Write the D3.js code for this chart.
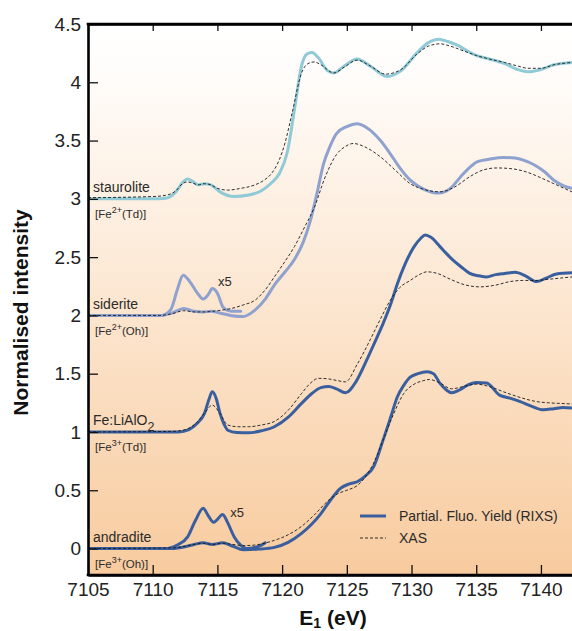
<!DOCTYPE html>
<html>
<head>
<meta charset="utf-8">
<script src="https://cdn.jsdelivr.net/npm/d3@7"></script>
<style>
  html, body { margin: 0; padding: 0; background: #fff; }
  svg { display: block; font-family: "Liberation Sans", Arial, Helvetica, sans-serif; }
</style>
</head>
<body>
<svg id="chart" width="572" height="631"></svg>
<script>
// ---- Axis ticks ----
const energyTicks = [7105, 7110, 7115, 7120, 7125, 7130, 7135, 7140];
const intensityTicks = [0, 0.5, 1, 1.5, 2, 2.5, 3, 3.5, 4, 4.5];

// ---- Samples (stacked with a vertical offset) ----
const sampleNames = ["staurolite", "siderite", "Fe:LiAlO", "andradite"];
const sampleSubscripts = ["", "", "2", ""];
const sampleSites = [["2+", "Td"], ["2+", "Oh"], ["3+", "Td"], ["3+", "Oh"]];
const sampleOffsets = [3, 2, 1, 0];
const legendLabels = ["Partial. Fluo. Yield (RIXS)", "XAS"];

// ---- Staurolite ----
const stauroliteRixsE = [7105, 7110, 7111, 7111.8, 7112.3, 7112.7, 7113.1, 7113.5, 7114.0, 7114.5,
  7115.2, 7116.3, 7117.3, 7118.4, 7119.2, 7119.8, 7120.4, 7121.0, 7121.5, 7121.9,
  7122.3, 7122.8, 7123.5, 7124.0, 7124.8, 7125.8, 7126.8, 7128.1, 7129.2, 7130.4,
  7131.3, 7132.1, 7132.8, 7133.5, 7134.3, 7135.0, 7136.0, 7137.2, 7138.2, 7139.0,
  7140.0, 7141.0, 7142.4];
const stauroliteRixs = [3.0, 3.0, 3.005, 3.06, 3.14, 3.17, 3.15, 3.12, 3.13, 3.12,
  3.06, 3.02, 3.03, 3.07, 3.14, 3.22, 3.40, 3.80, 4.14, 4.24,
  4.255, 4.21, 4.10, 4.08, 4.14, 4.20, 4.14, 4.05, 4.10, 4.25,
  4.34, 4.37, 4.35, 4.32, 4.27, 4.23, 4.20, 4.16, 4.11, 4.09,
  4.11, 4.15, 4.17];
const stauroliteXasE = [7105, 7110, 7111, 7111.8, 7112.3, 7112.7, 7113.1, 7113.5, 7114.0, 7114.5,
  7115.0, 7115.8, 7116.8, 7117.9, 7118.6, 7119.2, 7119.8, 7120.2, 7120.8, 7121.5,
  7122.0, 7122.5, 7123.0, 7124.0, 7124.8, 7125.8, 7126.8, 7128.0, 7129.2, 7130.4,
  7131.3, 7132.2, 7133.0, 7134.0, 7135.0, 7136.0, 7137.2, 7138.2, 7139.0, 7140.0,
  7141.0, 7142.4];
const stauroliteXas = [3.01, 3.02, 3.03, 3.07, 3.13, 3.145, 3.135, 3.12, 3.13, 3.12,
  3.09, 3.075, 3.09, 3.12, 3.16, 3.22, 3.34, 3.47, 3.75, 4.08,
  4.16, 4.175, 4.15, 4.08, 4.13, 4.19, 4.14, 4.07, 4.11, 4.24,
  4.31, 4.33, 4.31, 4.27, 4.23, 4.20, 4.17, 4.14, 4.12, 4.12,
  4.15, 4.17];

// ---- Siderite ----
const sideriteRixsE = [7105, 7110.5, 7111.5, 7112.4, 7113.2, 7113.9, 7114.5, 7115.2, 7116.0, 7117.0,
  7117.9, 7118.7, 7119.4, 7120.2, 7120.95, 7121.6, 7122.2, 7122.7, 7123.2, 7123.7,
  7124.2, 7125.0, 7125.8, 7126.8, 7127.6, 7128.4, 7129.2, 7129.9, 7131.0, 7132.1,
  7133.0, 7133.8, 7134.5, 7135.1, 7136.0, 7137.1, 7138.0, 7138.7, 7139.5, 7140.3,
  7141.0, 7141.8, 7142.4];
const sideriteRixs = [2.0, 2.0, 2.02, 2.06, 2.035, 2.03, 2.035, 2.02, 2.0, 1.99,
  2.045, 2.14, 2.26, 2.37, 2.48, 2.62, 2.82, 3.05, 3.30, 3.45,
  3.56, 3.62, 3.645, 3.59, 3.50, 3.38, 3.25, 3.16, 3.08, 3.05,
  3.09, 3.19, 3.27, 3.32, 3.34, 3.355, 3.35, 3.33, 3.29, 3.23,
  3.16, 3.11, 3.09];
const sideritePreEdgeE = [7110.8, 7111.4, 7111.9, 7112.35, 7112.8, 7113.4, 7113.9, 7114.3, 7114.6, 7115.0,
  7115.44, 7115.9, 7116.3, 7116.8];
const sideritePreEdgeX5 = [2.0, 2.05, 2.22, 2.345, 2.30, 2.20, 2.14, 2.18, 2.23, 2.19,
  2.07, 2.04, 2.035, 2.035];
const sideriteXasE = [7105, 7110.5, 7111.5, 7112.4, 7113.2, 7114.0, 7114.6, 7115.3, 7116.1, 7117.0,
  7117.9, 7118.7, 7119.4, 7120.2, 7120.95, 7121.7, 7122.5, 7123.3, 7124.2, 7124.9,
  7125.5, 7126.5, 7127.6, 7128.8, 7129.9, 7131.0, 7132.2, 7133.3, 7134.5, 7135.6,
  7136.6, 7137.6, 7138.6, 7139.6, 7140.4, 7141.0, 7141.8, 7142.4];
const sideriteXas = [2.0, 2.0, 2.015, 2.04, 2.03, 2.03, 2.035, 2.045, 2.06, 2.09,
  2.13, 2.22, 2.33, 2.46, 2.59, 2.75, 2.93, 3.18, 3.38, 3.45,
  3.475, 3.44, 3.36, 3.24, 3.13, 3.08, 3.06, 3.10, 3.19, 3.25,
  3.265, 3.26, 3.24, 3.20, 3.16, 3.13, 3.09, 3.06];

// ---- Fe:LiAlO2 ----
const liAlO2RixsE = [7105, 7112.0, 7112.8, 7113.4, 7114.0, 7114.35, 7114.6, 7114.9, 7115.2, 7115.5,
  7115.8, 7116.5, 7117.4, 7118.4, 7119.4, 7120.5, 7121.5, 7122.3, 7123.0, 7123.6,
  7124.2, 7124.9, 7125.7, 7126.55, 7127.2, 7127.8, 7128.4, 7128.9, 7129.5, 7130.2,
  7130.7, 7131.06, 7131.5, 7132.2, 7132.7, 7133.25, 7133.8, 7134.5, 7135.2, 7135.8,
  7136.5, 7137.2, 7138.0, 7138.8, 7139.66, 7140.4, 7141.2, 7142.4];
const liAlO2Rixs = [1.0, 1.0, 1.02, 1.07, 1.16, 1.28, 1.345, 1.29, 1.16, 1.07,
  1.015, 0.995, 0.993, 1.01, 1.045, 1.13, 1.245, 1.33, 1.38, 1.39,
  1.37, 1.336, 1.43, 1.62, 1.78, 1.93, 2.10, 2.27, 2.44, 2.59,
  2.66, 2.69, 2.67, 2.59, 2.53, 2.47, 2.42, 2.36, 2.34, 2.33,
  2.35, 2.36, 2.37, 2.34, 2.29, 2.32, 2.355, 2.365];
const liAlO2XasE = [7105, 7111.5, 7112.5, 7113.3, 7114.0, 7114.6, 7115.2, 7115.8, 7116.6, 7117.4,
  7118.4, 7119.4, 7120.5, 7121.5, 7122.2, 7122.8, 7123.6, 7124.3, 7124.9, 7125.8,
  7126.8, 7127.6, 7128.36, 7129.1, 7129.9, 7130.6, 7131.2, 7132.0, 7133.0, 7134.2,
  7135.3, 7136.5, 7137.6, 7138.6, 7139.6, 7140.6, 7141.5, 7142.4];
const liAlO2Xas = [1.0, 1.005, 1.02, 1.07, 1.16, 1.23, 1.16, 1.06, 1.045, 1.045,
  1.06, 1.09, 1.19, 1.33, 1.42, 1.46, 1.455, 1.44, 1.43, 1.58,
  1.79, 1.97, 2.13, 2.24, 2.30, 2.35, 2.374, 2.36, 2.31, 2.26,
  2.245, 2.26, 2.29, 2.30, 2.30, 2.31, 2.32, 2.33];

// ---- Andradite ----
const andraditeRixsE = [7105, 7111.5, 7112.5, 7113.2, 7113.9, 7114.6, 7115.4, 7116.2, 7117.0, 7118.2,
  7119.4, 7120.5, 7121.5, 7122.3, 7123.0, 7123.7, 7124.5, 7125.2, 7125.8, 7126.4,
  7127.06, 7127.8, 7128.4, 7128.9, 7129.4, 7129.9, 7130.5, 7131.2, 7131.7, 7132.2,
  7132.7, 7133.1, 7133.7, 7134.3, 7135.0, 7135.8, 7136.8, 7137.6, 7138.4, 7139.3,
  7140.2, 7141.0, 7141.7, 7142.4];
const andraditeRixs = [0.0, 0.0, 0.015, 0.035, 0.05, 0.035, 0.05, 0.02, -0.01, -0.005,
  0.01, 0.055, 0.13, 0.21, 0.30, 0.41, 0.516, 0.555, 0.573, 0.62,
  0.70, 0.93, 1.13, 1.30, 1.40, 1.47, 1.50, 1.516, 1.50, 1.417,
  1.36, 1.336, 1.36, 1.40, 1.425, 1.42, 1.316, 1.29, 1.26, 1.22,
  1.19, 1.20, 1.21, 1.205];
const andraditePreEdgeE = [7111.2, 7111.9, 7112.7, 7113.3, 7113.9, 7114.3, 7114.7, 7115.0, 7115.4, 7115.8,
  7116.3, 7116.8, 7117.3, 7117.9, 7118.4, 7118.7];
const andraditePreEdgeX5 = [0.0, 0.03, 0.10, 0.24, 0.345, 0.28, 0.225, 0.25, 0.293, 0.22,
  0.10, 0.03, 0.0, 0.01, 0.03, 0.05];
const andraditeXasE = [7105, 7111.5, 7112.5, 7113.2, 7113.9, 7114.6, 7115.4, 7116.2, 7117.0, 7117.9,
  7118.6, 7119.4, 7120.5, 7121.5, 7122.5, 7123.6, 7124.3, 7125.0, 7125.8, 7126.4,
  7127.06, 7127.8, 7128.6, 7129.4, 7130.2, 7130.9, 7131.4, 7132.2, 7133.1, 7134.0,
  7135.0, 7136.0, 7137.1, 7138.0, 7138.9, 7139.7, 7140.6, 7141.5, 7142.4];
const andraditeXas = [0.0, 0.005, 0.02, 0.035, 0.045, 0.035, 0.045, 0.035, 0.025, 0.03,
  0.045, 0.07, 0.12, 0.19, 0.29, 0.415, 0.47, 0.50, 0.54, 0.61,
  0.73, 0.93, 1.15, 1.33, 1.41, 1.44, 1.45, 1.42, 1.37, 1.39,
  1.41, 1.39, 1.345, 1.31, 1.28, 1.26, 1.25, 1.245, 1.24];

// "x5" magnification marks: [energy, intensity]
const magnifiedMarks = [[7115.05, 2.25], [7116.0, 0.27]];

// ---------------------------------------------------------------
const svg = d3.select("#chart");
const plot = { left: 88, top: 24, right: 572, bottom: 575 };

const x = d3.scaleLinear().domain([7105, 7142.4]).range([plot.left, plot.right]);
const y = d3.scaleLinear().domain([-0.227, 4.5]).range([plot.bottom, plot.top]);

const COLORS = {
  staurolite: "#8fcad6",
  siderite: "#8fa2cf",
  dark: "#3a5f9f",
  xas: "#1a1a1a",
  text: "#2b2b2b"
};

// Background: white at the top fading to peach at the bottom
const defs = svg.append("defs");
const grad = defs.append("linearGradient")
  .attr("id", "bg").attr("x1", 0).attr("y1", 0).attr("x2", 0).attr("y2", 1);
grad.append("stop").attr("offset", "0%").attr("stop-color", "#ffffff");
grad.append("stop").attr("offset", "8%").attr("stop-color", "#fffdfb");
grad.append("stop").attr("offset", "100%").attr("stop-color", "#f8cb9e");

defs.append("clipPath").attr("id", "clip")
  .append("rect")
  .attr("x", plot.left).attr("y", plot.top)
  .attr("width", plot.right - plot.left).attr("height", plot.bottom - plot.top);

svg.append("rect")
  .attr("x", plot.left).attr("y", plot.top)
  .attr("width", plot.right - plot.left).attr("height", plot.bottom - plot.top)
  .attr("fill", "url(#bg)");

// ---- Curves ----
const line = d3.line()
  .x(d => x(d[0])).y(d => y(d[1]))
  .curve(d3.curveMonotoneX);

const solidSeries = [
  { E: stauroliteRixsE, v: stauroliteRixs, color: COLORS.staurolite },
  { E: sideriteRixsE, v: sideriteRixs, color: COLORS.siderite },
  { E: sideritePreEdgeE, v: sideritePreEdgeX5, color: COLORS.siderite },
  { E: liAlO2RixsE, v: liAlO2Rixs, color: COLORS.dark },
  { E: andraditeRixsE, v: andraditeRixs, color: COLORS.dark },
  { E: andraditePreEdgeE, v: andraditePreEdgeX5, color: COLORS.dark }
];
const xasSeries = [
  { E: stauroliteXasE, v: stauroliteXas },
  { E: sideriteXasE, v: sideriteXas },
  { E: liAlO2XasE, v: liAlO2Xas },
  { E: andraditeXasE, v: andraditeXas }
];

const curves = svg.append("g").attr("clip-path", "url(#clip)");

curves.selectAll("path.rixs")
  .data(solidSeries)
  .join("path")
  .attr("class", "rixs")
  .attr("d", s => line(d3.zip(s.E, s.v)))
  .attr("fill", "none")
  .attr("stroke", s => s.color)
  .attr("stroke-width", 3)
  .attr("stroke-linejoin", "round")
  .attr("stroke-linecap", "round");

curves.selectAll("path.xas")
  .data(xasSeries)
  .join("path")
  .attr("class", "xas")
  .attr("d", s => line(d3.zip(s.E, s.v)))
  .attr("fill", "none")
  .attr("stroke", COLORS.xas)
  .attr("stroke-width", 0.9)
  .attr("stroke-dasharray", "3,2");

// ---- Axes ----
const axisFont = 19;

const xAxis = svg.append("g")
  .attr("transform", `translate(0,${plot.bottom})`)
  .call(d3.axisBottom(x)
    .tickValues(energyTicks)
    .tickFormat(d3.format("d"))
    .tickSizeInner(-10)
    .tickSizeOuter(0)
    .tickPadding(8));

const xTop = svg.append("g")
  .attr("transform", `translate(0,${plot.top})`)
  .call(d3.axisTop(x)
    .tickValues(energyTicks)
    .tickFormat("")
    .tickSizeInner(-7)
    .tickSizeOuter(0));

const yAxis = svg.append("g")
  .attr("transform", `translate(${plot.left},0)`)
  .call(d3.axisLeft(y)
    .tickValues(intensityTicks)
    .tickFormat(d => d3.format(".1f")(d).replace(/\.0$/, ""))
    .tickSizeInner(-10)
    .tickSizeOuter(0)
    .tickPadding(7));

[xAxis, xTop, yAxis].forEach(g => {
  g.select(".domain").attr("stroke", "#000").attr("stroke-width", 2.6);
  g.selectAll(".tick line").attr("stroke", "#111").attr("stroke-width", 1.3);
  g.selectAll(".tick text")
    .attr("fill", "#222")
    .style("font-size", axisFont + "px")
    .style("font-family", "'Liberation Sans', Arial, sans-serif");
});
// frame lines meeting the left axis at the corners
svg.append("line")
  .attr("x1", plot.left - 1.3).attr("x2", plot.right)
  .attr("y1", plot.top).attr("y2", plot.top)
  .attr("stroke", "#000").attr("stroke-width", 2.6);
svg.append("line")
  .attr("x1", plot.left - 1.3).attr("x2", plot.right)
  .attr("y1", plot.bottom).attr("y2", plot.bottom)
  .attr("stroke", "#000").attr("stroke-width", 2.6);

// Axis titles
svg.append("text")
  .attr("transform", `translate(28,${(plot.top + plot.bottom) / 2 + 13}) rotate(-90)`)
  .attr("text-anchor", "middle")
  .attr("font-weight", "bold")
  .attr("font-size", 21)
  .attr("fill", "#111")
  .text("Normalised intensity");

const xTitle = svg.append("text")
  .attr("x", (plot.left + plot.right) / 2 + 3)
  .attr("y", 625)
  .attr("text-anchor", "middle")
  .attr("font-weight", "bold")
  .attr("font-size", 21)
  .attr("fill", "#111");
xTitle.append("tspan").text("E");
xTitle.append("tspan").attr("font-size", 14).attr("dy", 3).text("1");
xTitle.append("tspan").attr("dy", -3).text(" (eV)");

// ---- Sample labels ----
const labels = svg.append("g").attr("fill", COLORS.text);
sampleNames.forEach((name, i) => {
  const base = y(sampleOffsets[i]);
  const t = labels.append("text")
    .attr("x", 93).attr("y", base - 6.5)
    .attr("font-size", 14);
  t.append("tspan").text(name);
  if (sampleSubscripts[i]) {
    t.append("tspan").attr("font-size", 12.5).attr("dy", 6).text(sampleSubscripts[i]);
  }
  const s = labels.append("text")
    .attr("x", 95).attr("y", base + 19.5)
    .attr("font-size", 11.5);
  s.append("tspan").text("[Fe");
  s.append("tspan").attr("font-size", 9).attr("dy", -5).text(sampleSites[i][0]);
  s.append("tspan").attr("dy", 5).text("(" + sampleSites[i][1] + ")]");
});

labels.selectAll("text.mag")
  .data(magnifiedMarks)
  .join("text")
  .attr("class", "mag")
  .attr("x", d => x(d[0]))
  .attr("y", d => y(d[1]))
  .attr("font-size", 13)
  .text("x5");

// ---- Legend ----
const legend = svg.append("g");
const legendRows = [
  { label: legendLabels[0], y: 516, dashed: false },
  { label: legendLabels[1], y: 538, dashed: true }
];
legendRows.forEach(r => {
  legend.append("line")
    .attr("x1", 360).attr("x2", 386)
    .attr("y1", r.y).attr("y2", r.y)
    .attr("stroke", r.dashed ? COLORS.xas : COLORS.dark)
    .attr("stroke-width", r.dashed ? 0.9 : 3)
    .attr("stroke-dasharray", r.dashed ? "3,2" : null);
  legend.append("text")
    .attr("x", 399).attr("y", r.y + 5)
    .attr("font-size", 14)
    .attr("fill", COLORS.text)
    .text(r.label);
});
</script>
</body>
</html>
